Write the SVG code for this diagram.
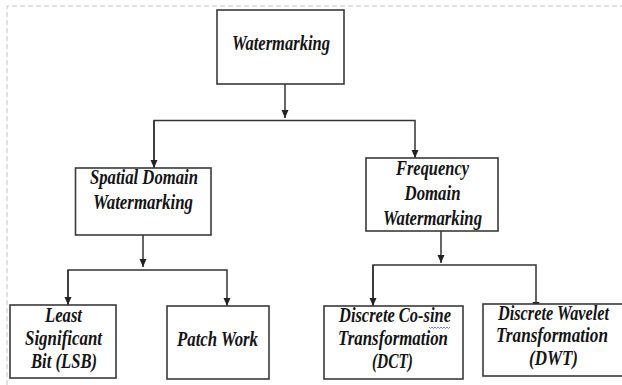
<svg xmlns="http://www.w3.org/2000/svg" width="622" height="385" viewBox="0 0 622 385">
<style>
.frame{fill:none;stroke:#c4c4c4;stroke-width:1;stroke-dasharray:5 3}
.box{fill:#fff;stroke:#3a3a3a;stroke-width:1.6}
.t{font-family:"Liberation Serif","Times New Roman",serif;font-weight:bold;font-style:italic;font-size:20px;fill:#141414;text-anchor:middle}
.c{fill:none;stroke:#333;stroke-width:1.5}
.wavy{fill:none;stroke:#6b6bf0;stroke-width:0.9}
</style>
<defs>
<marker id="ah" markerUnits="userSpaceOnUse" markerWidth="8" markerHeight="9" refX="8" refY="3.5" orient="auto">
<path d="M0,0 L8,3.5 L0,7 Z" fill="#222"/>
</marker>
</defs>
<rect width="622" height="385" fill="#fff"/>
<path class="frame" d="M7,385 V6 H622"/>

<g id="connectors">
<path class="c" d="M285,84 V118" marker-end="url(#ah)"/>
<path class="c" d="M154,168 V120.5 H415 V158" marker-end="url(#ah)"/>
<path class="c" d="M154,120.5 V168" marker-end="url(#ah)"/>
<path class="c" d="M143,235 V267" marker-end="url(#ah)"/>
<path class="c" d="M68,305 V270 H227 V306" marker-end="url(#ah)"/>
<path class="c" d="M68,270 V305" marker-end="url(#ah)"/>
<path class="c" d="M441,231 V263" marker-end="url(#ah)"/>
<path class="c" d="M373,306 V265 H536 V310" marker-end="url(#ah)"/>
<path class="c" d="M373,265 V306" marker-end="url(#ah)"/>
</g>

<g id="watermarking">
<rect class="box" x="217" y="10" width="127" height="74"/>
<text class="t" x="281" y="50" textLength="98" lengthAdjust="spacingAndGlyphs">Watermarking</text>
</g>

<g id="spatial">
<rect class="box" x="75.5" y="168" width="135.5" height="67"/>
<text class="t" x="144" y="184" textLength="108" lengthAdjust="spacingAndGlyphs">Spatial Domain</text>
<text class="t" x="143" y="209" textLength="100" lengthAdjust="spacingAndGlyphs">Watermarking</text>
</g>

<g id="frequency">
<rect class="box" x="366" y="158" width="132" height="73"/>
<text class="t" x="432.5" y="175" textLength="73" lengthAdjust="spacingAndGlyphs">Frequency</text>
<text class="t" x="432.5" y="200" textLength="56" lengthAdjust="spacingAndGlyphs">Domain</text>
<text class="t" x="432.5" y="225" textLength="99" lengthAdjust="spacingAndGlyphs">Watermarking</text>
</g>

<g id="lsb">
<rect class="box" x="10" y="305" width="106" height="73"/>
<text class="t" x="63.5" y="322" textLength="37" lengthAdjust="spacingAndGlyphs">Least</text>
<text class="t" x="63.5" y="345" textLength="77" lengthAdjust="spacingAndGlyphs">Significant</text>
<text class="t" x="64" y="368" textLength="66" lengthAdjust="spacingAndGlyphs">Bit (LSB)</text>
</g>

<g id="patchwork">
<rect class="box" x="167" y="306" width="102" height="73"/>
<text class="t" x="217.5" y="346" textLength="81" lengthAdjust="spacingAndGlyphs">Patch Work</text>
</g>

<g id="dct">
<rect class="box" x="324" y="306" width="139" height="73"/>
<text class="t" x="395" y="322" textLength="112" lengthAdjust="spacingAndGlyphs">Discrete Co-sine</text>
<path class="wavy" d="M429,327 l1.5,1.5 l1.5,-1.5 l1.5,1.5 l1.5,-1.5 l1.5,1.5 l1.5,-1.5 l1.5,1.5 l1.5,-1.5 l1.5,1.5 l1.5,-1.5 l1.5,1.5 l1.5,-1.5 l1.5,1.5 l1.5,-1.5"/>
<text class="t" x="393" y="345" textLength="110" lengthAdjust="spacingAndGlyphs">Transformation</text>
<text class="t" x="392.5" y="368" textLength="41" lengthAdjust="spacingAndGlyphs">(DCT)</text>
</g>

<g id="dwt">
<rect class="box" x="483" y="304" width="145" height="72"/>
<text class="t" x="553.5" y="320" textLength="111" lengthAdjust="spacingAndGlyphs">Discrete Wavelet</text>
<text class="t" x="552" y="342" textLength="112" lengthAdjust="spacingAndGlyphs">Transformation</text>
<text class="t" x="553.5" y="365" textLength="49" lengthAdjust="spacingAndGlyphs">(DWT)</text>
</g>
</svg>
